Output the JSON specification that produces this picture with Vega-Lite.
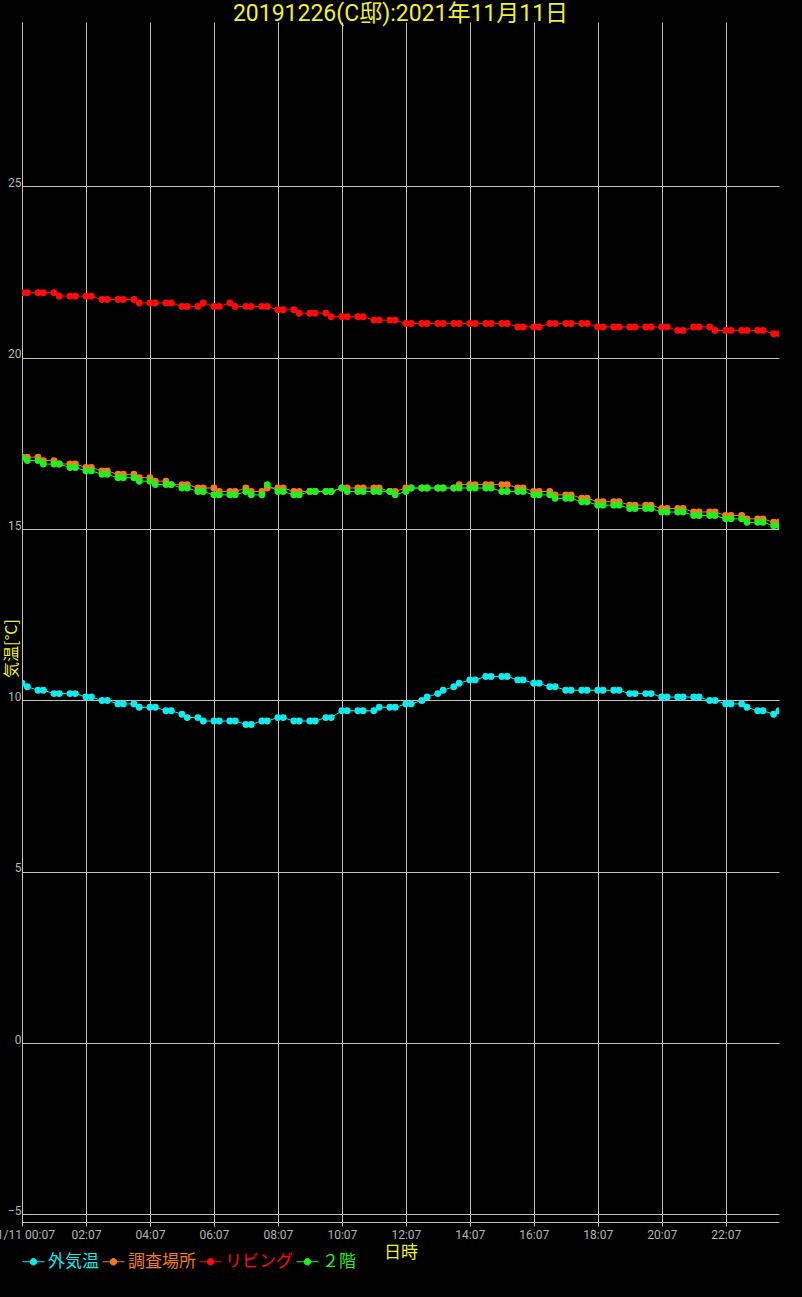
{
 "$schema": "https://vega.github.io/schema/vega-lite/v6.json",
 "autosize": {"type": "none"},
 "width": 757,
 "height": 1200,
 "padding": {"left": 22, "top": 22, "right": 23, "bottom": 75},
 "background": "black",
 "title": {"text": "20191226(C邸):2021年11月11日", "color": "#f0f032", "fontSize": 23, "font": "Roboto, Noto Sans CJK JP", "fontWeight": "normal", "anchor": "middle", "offset": -4},
 "config": {"view": {"stroke": null}},
 "data": {"values": [
{"t":"2021-11-11T00:07","外気温":10.5,"調査場所":17.1,"リビング":21.9,"２階":17.1},
{"t":"2021-11-11T00:17","外気温":10.4,"調査場所":17.1,"リビング":21.9,"２階":17.0},
{"t":"2021-11-11T00:37","外気温":10.3,"調査場所":17.1,"リビング":21.9,"２階":17.0},
{"t":"2021-11-11T00:47","外気温":10.3,"調査場所":17.0,"リビング":21.9,"２階":16.9},
{"t":"2021-11-11T01:07","外気温":10.2,"調査場所":17.0,"リビング":21.9,"２階":16.9},
{"t":"2021-11-11T01:17","外気温":10.2,"調査場所":16.9,"リビング":21.8,"２階":16.9},
{"t":"2021-11-11T01:37","外気温":10.2,"調査場所":16.9,"リビング":21.8,"２階":16.8},
{"t":"2021-11-11T01:47","外気温":10.2,"調査場所":16.9,"リビング":21.8,"２階":16.8},
{"t":"2021-11-11T02:07","外気温":10.1,"調査場所":16.8,"リビング":21.8,"２階":16.7},
{"t":"2021-11-11T02:17","外気温":10.1,"調査場所":16.8,"リビング":21.8,"２階":16.7},
{"t":"2021-11-11T02:37","外気温":10.0,"調査場所":16.7,"リビング":21.7,"２階":16.6},
{"t":"2021-11-11T02:47","外気温":10.0,"調査場所":16.7,"リビング":21.7,"２階":16.6},
{"t":"2021-11-11T03:07","外気温":9.9,"調査場所":16.6,"リビング":21.7,"２階":16.5},
{"t":"2021-11-11T03:17","外気温":9.9,"調査場所":16.6,"リビング":21.7,"２階":16.5},
{"t":"2021-11-11T03:37","外気温":9.9,"調査場所":16.6,"リビング":21.7,"２階":16.5},
{"t":"2021-11-11T03:47","外気温":9.8,"調査場所":16.5,"リビング":21.6,"２階":16.4},
{"t":"2021-11-11T04:07","外気温":9.8,"調査場所":16.5,"リビング":21.6,"２階":16.4},
{"t":"2021-11-11T04:17","外気温":9.8,"調査場所":16.4,"リビング":21.6,"２階":16.3},
{"t":"2021-11-11T04:37","外気温":9.7,"調査場所":16.4,"リビング":21.6,"２階":16.3},
{"t":"2021-11-11T04:47","外気温":9.7,"調査場所":16.3,"リビング":21.6,"２階":16.3},
{"t":"2021-11-11T05:07","外気温":9.6,"調査場所":16.3,"リビング":21.5,"２階":16.2},
{"t":"2021-11-11T05:17","外気温":9.5,"調査場所":16.3,"リビング":21.5,"２階":16.2},
{"t":"2021-11-11T05:37","外気温":9.5,"調査場所":16.2,"リビング":21.5,"２階":16.1},
{"t":"2021-11-11T05:47","外気温":9.4,"調査場所":16.2,"リビング":21.6,"２階":16.1},
{"t":"2021-11-11T06:07","外気温":9.4,"調査場所":16.2,"リビング":21.5,"２階":16.0},
{"t":"2021-11-11T06:17","外気温":9.4,"調査場所":16.1,"リビング":21.5,"２階":16.0},
{"t":"2021-11-11T06:37","外気温":9.4,"調査場所":16.1,"リビング":21.6,"２階":16.0},
{"t":"2021-11-11T06:47","外気温":9.4,"調査場所":16.1,"リビング":21.5,"２階":16.0},
{"t":"2021-11-11T07:07","外気温":9.3,"調査場所":16.2,"リビング":21.5,"２階":16.1},
{"t":"2021-11-11T07:17","外気温":9.3,"調査場所":16.1,"リビング":21.5,"２階":16.0},
{"t":"2021-11-11T07:37","外気温":9.4,"調査場所":16.1,"リビング":21.5,"２階":16.0},
{"t":"2021-11-11T07:47","外気温":9.4,"調査場所":16.2,"リビング":21.5,"２階":16.3},
{"t":"2021-11-11T08:07","外気温":9.5,"調査場所":16.2,"リビング":21.4,"２階":16.1},
{"t":"2021-11-11T08:17","外気温":9.5,"調査場所":16.2,"リビング":21.4,"２階":16.1},
{"t":"2021-11-11T08:37","外気温":9.4,"調査場所":16.1,"リビング":21.4,"２階":16.0},
{"t":"2021-11-11T08:47","外気温":9.4,"調査場所":16.1,"リビング":21.3,"２階":16.0},
{"t":"2021-11-11T09:07","外気温":9.4,"調査場所":16.1,"リビング":21.3,"２階":16.1},
{"t":"2021-11-11T09:17","外気温":9.4,"調査場所":16.1,"リビング":21.3,"２階":16.1},
{"t":"2021-11-11T09:37","外気温":9.5,"調査場所":16.1,"リビング":21.3,"２階":16.1},
{"t":"2021-11-11T09:47","外気温":9.5,"調査場所":16.1,"リビング":21.2,"２階":16.1},
{"t":"2021-11-11T10:07","外気温":9.7,"調査場所":16.2,"リビング":21.2,"２階":16.2},
{"t":"2021-11-11T10:17","外気温":9.7,"調査場所":16.2,"リビング":21.2,"２階":16.1},
{"t":"2021-11-11T10:37","外気温":9.7,"調査場所":16.2,"リビング":21.2,"２階":16.1},
{"t":"2021-11-11T10:47","外気温":9.7,"調査場所":16.2,"リビング":21.2,"２階":16.1},
{"t":"2021-11-11T11:07","外気温":9.7,"調査場所":16.2,"リビング":21.1,"２階":16.1},
{"t":"2021-11-11T11:17","外気温":9.8,"調査場所":16.2,"リビング":21.1,"２階":16.1},
{"t":"2021-11-11T11:37","外気温":9.8,"調査場所":16.1,"リビング":21.1,"２階":16.1},
{"t":"2021-11-11T11:47","外気温":9.8,"調査場所":16.1,"リビング":21.1,"２階":16.0},
{"t":"2021-11-11T12:07","外気温":9.9,"調査場所":16.2,"リビング":21.0,"２階":16.1},
{"t":"2021-11-11T12:17","外気温":9.9,"調査場所":16.2,"リビング":21.0,"２階":16.2},
{"t":"2021-11-11T12:37","外気温":10.0,"調査場所":16.2,"リビング":21.0,"２階":16.2},
{"t":"2021-11-11T12:47","外気温":10.1,"調査場所":16.2,"リビング":21.0,"２階":16.2},
{"t":"2021-11-11T13:07","外気温":10.2,"調査場所":16.2,"リビング":21.0,"２階":16.2},
{"t":"2021-11-11T13:17","外気温":10.3,"調査場所":16.2,"リビング":21.0,"２階":16.2},
{"t":"2021-11-11T13:37","外気温":10.4,"調査場所":16.2,"リビング":21.0,"２階":16.2},
{"t":"2021-11-11T13:47","外気温":10.5,"調査場所":16.3,"リビング":21.0,"２階":16.2},
{"t":"2021-11-11T14:07","外気温":10.6,"調査場所":16.3,"リビング":21.0,"２階":16.2},
{"t":"2021-11-11T14:17","外気温":10.6,"調査場所":16.3,"リビング":21.0,"２階":16.2},
{"t":"2021-11-11T14:37","外気温":10.7,"調査場所":16.3,"リビング":21.0,"２階":16.2},
{"t":"2021-11-11T14:47","外気温":10.7,"調査場所":16.3,"リビング":21.0,"２階":16.2},
{"t":"2021-11-11T15:07","外気温":10.7,"調査場所":16.3,"リビング":21.0,"２階":16.1},
{"t":"2021-11-11T15:17","外気温":10.7,"調査場所":16.3,"リビング":21.0,"２階":16.1},
{"t":"2021-11-11T15:37","外気温":10.6,"調査場所":16.2,"リビング":20.9,"２階":16.1},
{"t":"2021-11-11T15:47","外気温":10.6,"調査場所":16.2,"リビング":20.9,"２階":16.1},
{"t":"2021-11-11T16:07","外気温":10.5,"調査場所":16.1,"リビング":20.9,"２階":16.0},
{"t":"2021-11-11T16:17","外気温":10.5,"調査場所":16.1,"リビング":20.9,"２階":16.0},
{"t":"2021-11-11T16:37","外気温":10.4,"調査場所":16.1,"リビング":21.0,"２階":16.0},
{"t":"2021-11-11T16:47","外気温":10.4,"調査場所":16.0,"リビング":21.0,"２階":15.9},
{"t":"2021-11-11T17:07","外気温":10.3,"調査場所":16.0,"リビング":21.0,"２階":15.9},
{"t":"2021-11-11T17:17","外気温":10.3,"調査場所":16.0,"リビング":21.0,"２階":15.9},
{"t":"2021-11-11T17:37","外気温":10.3,"調査場所":15.9,"リビング":21.0,"２階":15.8},
{"t":"2021-11-11T17:47","外気温":10.3,"調査場所":15.9,"リビング":21.0,"２階":15.8},
{"t":"2021-11-11T18:07","外気温":10.3,"調査場所":15.8,"リビング":20.9,"２階":15.7},
{"t":"2021-11-11T18:17","外気温":10.3,"調査場所":15.8,"リビング":20.9,"２階":15.7},
{"t":"2021-11-11T18:37","外気温":10.3,"調査場所":15.8,"リビング":20.9,"２階":15.7},
{"t":"2021-11-11T18:47","外気温":10.3,"調査場所":15.8,"リビング":20.9,"２階":15.7},
{"t":"2021-11-11T19:07","外気温":10.2,"調査場所":15.7,"リビング":20.9,"２階":15.6},
{"t":"2021-11-11T19:17","外気温":10.2,"調査場所":15.7,"リビング":20.9,"２階":15.6},
{"t":"2021-11-11T19:37","外気温":10.2,"調査場所":15.7,"リビング":20.9,"２階":15.6},
{"t":"2021-11-11T19:47","外気温":10.2,"調査場所":15.7,"リビング":20.9,"２階":15.6},
{"t":"2021-11-11T20:07","外気温":10.1,"調査場所":15.6,"リビング":20.9,"２階":15.5},
{"t":"2021-11-11T20:17","外気温":10.1,"調査場所":15.6,"リビング":20.9,"２階":15.5},
{"t":"2021-11-11T20:37","外気温":10.1,"調査場所":15.6,"リビング":20.8,"２階":15.5},
{"t":"2021-11-11T20:47","外気温":10.1,"調査場所":15.6,"リビング":20.8,"２階":15.5},
{"t":"2021-11-11T21:07","外気温":10.1,"調査場所":15.5,"リビング":20.9,"２階":15.4},
{"t":"2021-11-11T21:17","外気温":10.1,"調査場所":15.5,"リビング":20.9,"２階":15.4},
{"t":"2021-11-11T21:37","外気温":10.0,"調査場所":15.5,"リビング":20.9,"２階":15.4},
{"t":"2021-11-11T21:47","外気温":10.0,"調査場所":15.5,"リビング":20.8,"２階":15.4},
{"t":"2021-11-11T22:07","外気温":9.9,"調査場所":15.4,"リビング":20.8,"２階":15.3},
{"t":"2021-11-11T22:17","外気温":9.9,"調査場所":15.4,"リビング":20.8,"２階":15.3},
{"t":"2021-11-11T22:37","外気温":9.9,"調査場所":15.4,"リビング":20.8,"２階":15.3},
{"t":"2021-11-11T22:47","外気温":9.8,"調査場所":15.3,"リビング":20.8,"２階":15.2},
{"t":"2021-11-11T23:07","外気温":9.7,"調査場所":15.3,"リビング":20.8,"２階":15.2},
{"t":"2021-11-11T23:17","外気温":9.7,"調査場所":15.3,"リビング":20.8,"２階":15.2},
{"t":"2021-11-11T23:37","外気温":9.6,"調査場所":15.2,"リビング":20.7,"２階":15.1},
{"t":"2021-11-11T23:47","外気温":9.7,"調査場所":15.2,"リビング":20.7,"２階":15.1}
 ]},
 "transform": [{"fold": ["外気温", "調査場所", "リビング", "２階"], "as": ["系列", "気温"]}],
 "encoding": {
  "x": {
   "field": "t", "type": "temporal",
   "scale": {"domain": [{"year": 2021, "month": 11, "date": 11, "hours": 0, "minutes": 7}, {"year": 2021, "month": 11, "date": 11, "hours": 23, "minutes": 47}]},
   "axis": {
    "values": [
     {"year": 2021, "month": 11, "date": 11, "hours": 0, "minutes": 7},
     {"year": 2021, "month": 11, "date": 11, "hours": 2, "minutes": 7},
     {"year": 2021, "month": 11, "date": 11, "hours": 4, "minutes": 7},
     {"year": 2021, "month": 11, "date": 11, "hours": 6, "minutes": 7},
     {"year": 2021, "month": 11, "date": 11, "hours": 8, "minutes": 7},
     {"year": 2021, "month": 11, "date": 11, "hours": 10, "minutes": 7},
     {"year": 2021, "month": 11, "date": 11, "hours": 12, "minutes": 7},
     {"year": 2021, "month": 11, "date": 11, "hours": 14, "minutes": 7},
     {"year": 2021, "month": 11, "date": 11, "hours": 16, "minutes": 7},
     {"year": 2021, "month": 11, "date": 11, "hours": 18, "minutes": 7},
     {"year": 2021, "month": 11, "date": 11, "hours": 20, "minutes": 7},
     {"year": 2021, "month": 11, "date": 11, "hours": 22, "minutes": 7}
    ],
    "labelExpr": "hours(datum.value) == 0 ? '11/11 00:07' : timeFormat(datum.value, '%H:%M')",
    "title": "日時", "titleColor": "#f0f032", "titleFontSize": 17, "titleFont": "Noto Sans CJK JP", "titleFontWeight": "normal", "titlePadding": 4,
    "labelColor": "#b4b4b4", "labelFontSize": 12, "labelFont": "Roboto", "labelPadding": 3, "labelFlush": false, "labelOverlap": false,
    "tickSize": 4, "tickColor": "#c0c0c0", "domainColor": "#c0c0c0", "grid": true, "gridColor": "#c0c0c0", "gridOpacity": 1
   }
  },
  "y": {
   "field": "気温", "type": "quantitative",
   "scale": {"domain": [-5.22, 29.8], "nice": false, "zero": false},
   "axis": {
    "values": [-5, 0, 5, 10, 15, 20, 25],
    "title": "気温[°C]", "titleColor": "#f0f032", "titleFontSize": 16, "titleFont": "Noto Sans CJK JP", "titleFontWeight": "normal",
    "titleX": -3, "titleY": 626, "titleBaseline": "bottom", "titleAlign": "center", "titleAngle": -90,
    "labelBaseline": "alphabetic", "labelPadding": 1, "tickSize": 0,
    "labelColor": "#b4b4b4", "labelFontSize": 12, "labelFont": "Roboto",
    "domainColor": "#c0c0c0", "grid": true, "gridColor": "#c0c0c0", "gridOpacity": 1
   }
  },
  "color": {
   "field": "系列", "type": "nominal",
   "scale": {"domain": ["外気温", "調査場所", "リビング", "２階"], "range": ["#10eaea", "#f47a1e", "#ff0a0a", "#22ee22"]},
   "legend": {
    "title": null, "orient": "none", "legendX": 0, "legendY": 1228, "direction": "horizontal",
    "symbolType": "M-1,0H1M0.3,0A0.3,0.3,0,1,1,-0.3,0A0.3,0.3,0,1,1,0.3,0Z",
    "symbolSize": 484, "symbolStrokeWidth": 1,
    "labelFontSize": 17, "labelFont": "Noto Sans CJK JP", "labelOffset": 3, "columnPadding": 1, "padding": 0,
    "encode": {
     "labels": {"update": {"fill": {"scale": "color", "field": "value"}}},
     "symbols": {"update": {"fill": {"scale": "color", "field": "value"}, "stroke": {"scale": "color", "field": "value"}, "opacity": {"value": 1}}}
    }
   }
  }
 },
 "layer": [
  {"mark": {"type": "line", "strokeWidth": 1, "clip": true}},
  {"mark": {"type": "point", "filled": true, "size": 48, "opacity": 1, "clip": true}, "encoding": {"order": {"field": "系列", "type": "ordinal"}}}
 ]
}
